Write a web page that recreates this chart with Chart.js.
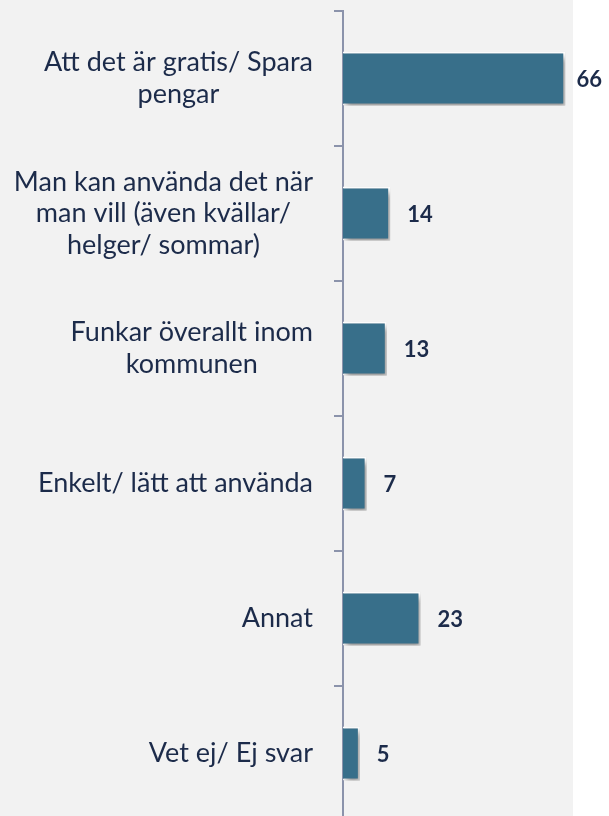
<!DOCTYPE html>
<html>
<head>
<meta charset="utf-8">
<script src="https://cdn.jsdelivr.net/npm/chart.js@4/dist/chart.umd.min.js"></script>
<style>
  html, body { margin: 0; padding: 0; background: #ffffff; }
  #wrap { width: 609px; height: 816px; overflow: hidden; position: relative; }
  canvas { display: block; }
</style>
</head>
<body>
<div id="wrap"><canvas id="chart" width="609" height="830"></canvas></div>
<script>
'use strict';

// Categories (each entry is the lines of one label) and values
const categories = [
  ['Att det är gratis/ Spara', 'pengar'],
  ['Man kan använda det när', 'man vill (även kvällar/', 'helger/ sommar)'],
  ['Funkar överallt inom', 'kommunen'],
  ['Enkelt/ lätt att använda'],
  ['Annat'],
  ['Vet ej/ Ej svar']
];
const values = [66, 14, 13, 7, 23, 5];

const TEXT_COLOR = '#1c2b4a';
const AXIS_COLOR = '#8b93ab';
const BAR_COLOR = '#386f8a';
const LABEL_FONT = '27px Lato, "Open Sans", sans-serif';
const VALUE_FONT = 'bold 22px Lato, "Open Sans", sans-serif';

// Grey panel behind the chart
const panelPlugin = {
  id: 'panel',
  beforeDraw(chart) {
    const ctx = chart.ctx;
    ctx.save();
    ctx.fillStyle = '#f2f2f2';
    ctx.fillRect(0, 0, 573, chart.height);
    ctx.restore();
  }
};

// Soft drop shadow on the bars
const shadowPlugin = {
  id: 'barShadow',
  beforeDatasetDraw(chart) {
    const ctx = chart.ctx;
    ctx.save();
    ctx.shadowColor = 'rgba(0, 0, 0, 0.4)';
    ctx.shadowBlur = 6;
    ctx.shadowOffsetX = 3;
    ctx.shadowOffsetY = 4;
  },
  afterDatasetDraw(chart) {
    chart.ctx.restore();
  }
};

// Category labels: block right-aligned, each line centred inside the block
const labelPlugin = {
  id: 'catLabels',
  afterDraw(chart) {
    const ctx = chart.ctx;
    const yScale = chart.scales.y;
    const right = 313;
    const lineHeight = 31.5;
    ctx.save();
    ctx.font = LABEL_FONT;
    ctx.fillStyle = TEXT_COLOR;
    ctx.textAlign = 'center';
    ctx.textBaseline = 'middle';
    categories.forEach((lines, i) => {
      const y = yScale.getPixelForTick(i);
      const widest = Math.max(...lines.map(l => ctx.measureText(l).width));
      const cx = right - widest / 2;
      lines.forEach((line, j) => {
        ctx.fillText(line, cx, y + (j - (lines.length - 1) / 2) * lineHeight);
      });
    });
    ctx.restore();
  }
};

// Value labels at the end of each bar
const valuePlugin = {
  id: 'valueLabels',
  afterDatasetsDraw(chart) {
    const ctx = chart.ctx;
    const meta = chart.getDatasetMeta(0);
    ctx.save();
    ctx.font = VALUE_FONT;
    ctx.fillStyle = TEXT_COLOR;
    ctx.textAlign = 'left';
    ctx.textBaseline = 'middle';
    meta.data.forEach((bar, i) => {
      const text = String(values[i]);
      const w = ctx.measureText(text).width;
      const x = Math.min(bar.x + 17, chart.width - w - 7);
      ctx.fillText(text, x, bar.y + 1);
    });
    ctx.restore();
  }
};

new Chart(document.getElementById('chart'), {
  type: 'bar',
  data: {
    labels: categories,
    datasets: [{
      data: values,
      backgroundColor: BAR_COLOR,
      borderColor: '#ffffff',
      borderWidth: 2,
      barPercentage: 0.4,
      categoryPercentage: 1
    }]
  },
  options: {
    indexAxis: 'y',
    responsive: false,
    animation: false,
    events: [],
    layout: { padding: { top: 11, bottom: 9, left: 0, right: 0 } },
    scales: {
      x: {
        display: false,
        min: 0,
        max: 79
      },
      y: {
        ticks: { display: false },
        grid: {
          offset: true,
          drawOnChartArea: false,
          drawTicks: true,
          tickLength: 9,
          color: AXIS_COLOR,
          lineWidth: 2
        },
        border: { display: true, color: AXIS_COLOR, width: 2 },
        afterFit(scale) { scale.width = 343; }
      }
    },
    plugins: {
      legend: { display: false },
      tooltip: { enabled: false }
    }
  },
  plugins: [panelPlugin, shadowPlugin, labelPlugin, valuePlugin]
});
</script>
</body>
</html>
